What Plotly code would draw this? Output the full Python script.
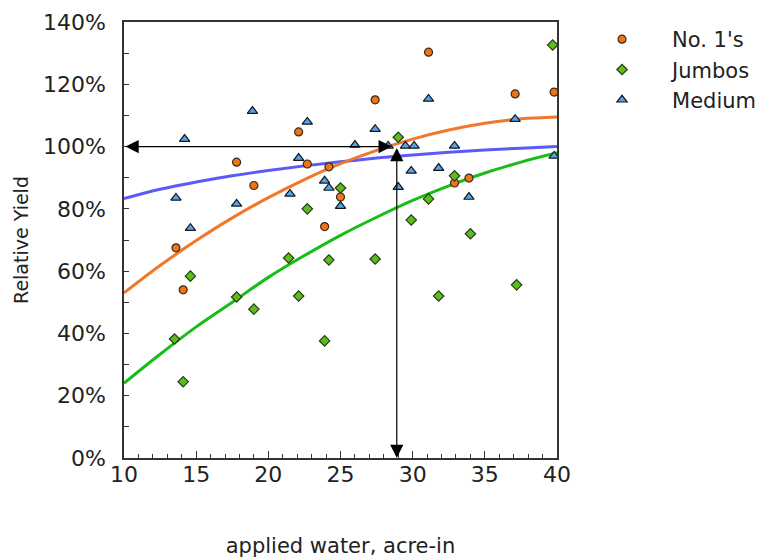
import plotly.graph_objects as go

# ---- data ----
no1_x = [13.6, 14.1, 17.8, 19.0, 22.1, 22.7, 23.9, 24.2, 25.0, 27.4, 31.1, 32.9, 33.9, 37.1, 39.8]
no1_y = [67.5, 54.0, 95.0, 87.5, 104.7, 94.4, 74.3, 93.5, 83.8, 115.0, 130.3, 88.3, 89.9, 116.9, 117.5]

jumbo_x = [13.5, 14.1, 14.6, 17.8, 19.0, 21.4, 22.1, 22.7, 23.9, 24.2, 25.0, 27.4, 29.0, 29.9,
           31.1, 31.8, 32.9, 34.0, 37.2, 39.7]
jumbo_y = [38.2, 24.5, 58.4, 51.7, 47.8, 64.2, 52.0, 80.0, 37.6, 63.6, 86.7, 63.9, 103.0, 76.4,
           83.2, 52.0, 90.6, 72.0, 55.6, 132.6]

medium_x = [13.6, 14.2, 14.6, 17.8, 18.9, 21.5, 22.1, 22.7, 23.9, 24.2, 25.0, 26.0, 27.4, 28.3,
            29.0, 29.5, 29.9, 30.1, 31.1, 31.8, 32.9, 33.9, 37.1, 39.8]
medium_y = [83.5, 102.4, 73.8, 81.6, 111.4, 84.8, 96.3, 107.9, 89.0, 86.7, 80.9, 100.5, 105.6, 100.2,
            87.0, 100.2, 92.2, 100.2, 115.3, 93.1, 100.2, 83.8, 108.8, 97.0]

curve_x = [10, 12.5, 15, 17.5, 20, 22.5, 25, 27.5, 30, 32.5, 35, 37.5, 40]
no1_curve = [53.0, 61.8, 69.8, 77.1, 83.6, 89.4, 94.5, 98.8, 102.4, 105.3, 107.5, 108.9, 109.5]
jumbo_curve = [24.0, 33.3, 42.1, 50.0, 58.0, 65.0, 71.5, 77.3, 82.7, 87.4, 91.5, 95.0, 98.0]
medium_curve = [83.3, 86.3, 88.6, 90.6, 92.3, 93.8, 95.1, 96.3, 97.3, 98.2, 98.9, 99.5, 100.0]

series_names = ["No. 1's", "Jumbos", "Medium"]
x_ticks = [10, 15, 20, 25, 30, 35, 40]
y_ticks = [0, 20, 40, 60, 80, 100, 120, 140]

target_yield = 100
target_water = 28.9
x_min, x_max = 10, 40

FONT = "DejaVu Sans"
TXT = "#222222"

fig = go.Figure()

# fitted curves
fig.add_trace(go.Scatter(x=curve_x, y=medium_curve, mode="lines", showlegend=False,
                         line=dict(color="#5a5af8", width=3, shape="spline"), hoverinfo="skip"))
fig.add_trace(go.Scatter(x=curve_x, y=no1_curve, mode="lines", showlegend=False,
                         line=dict(color="#f07828", width=3, shape="spline"), hoverinfo="skip"))
fig.add_trace(go.Scatter(x=curve_x, y=jumbo_curve, mode="lines", showlegend=False,
                         line=dict(color="#16be16", width=3, shape="spline"), hoverinfo="skip"))

# points
fig.add_trace(go.Scatter(x=no1_x, y=no1_y, mode="markers", name=series_names[0],
                         marker=dict(symbol="circle", size=8, color="#ee7418",
                                     line=dict(color="#3a2a1a", width=1.2))))
fig.add_trace(go.Scatter(x=jumbo_x, y=jumbo_y, mode="markers", name=series_names[1],
                         marker=dict(symbol="diamond", size=8, color="#5cbc1c",
                                     line=dict(color="#2a3a1a", width=1.2))))
fig.add_trace(go.Scatter(x=medium_x, y=medium_y, mode="markers", name=series_names[2],
                         marker=dict(symbol="triangle-up", size=9, color="#5aa2e6",
                                     line=dict(color="#101820", width=1.2))))

# arrows
fig.add_annotation(x=target_water - 0.35, y=target_yield, ax=x_min, ay=target_yield,
                   xref="x", yref="y", axref="x", ayref="y", text="", showarrow=True,
                   arrowside="end+start", arrowhead=2, startarrowhead=2,
                   arrowsize=2.2, startarrowsize=2.2, arrowwidth=1.2, arrowcolor="black",
                   standoff=0, startstandoff=0)
fig.add_annotation(x=target_water, y=0, ax=target_water, ay=target_yield,
                   xref="x", yref="y", axref="x", ayref="y", text="", showarrow=True,
                   arrowside="end+start", arrowhead=2, startarrowhead=2,
                   arrowsize=2.2, startarrowsize=2.2, arrowwidth=1.2, arrowcolor="black",
                   standoff=0, startstandoff=0)

fig.update_layout(
    width=772, height=559,
    margin=dict(l=116, r=223, t=14, b=109, autoexpand=False),
    paper_bgcolor="white", plot_bgcolor="white",
    font=dict(family=FONT, size=21, color=TXT),
    showlegend=True,
    legend=dict(x=0.7306, y=0.9803, xref="container", yref="container",
                xanchor="left", yanchor="top",
                font=dict(family=FONT, size=21, color=TXT),
                itemwidth=90, bgcolor="rgba(0,0,0,0)", tracegroupgap=0),
    xaxis=dict(range=[x_min, x_max], tickvals=x_ticks, ticktext=[str(v) for v in x_ticks],
               showgrid=False, zeroline=False, showline=True, linecolor="#333333",
               linewidth=1.5, mirror=True, ticks="inside", ticklen=7, tickwidth=1,
               tickcolor="#333333", automargin=False, ticklabelstandoff=-4,
               minor=dict(dtick=1, ticks="inside", ticklen=4, tickcolor="#333333", showgrid=False),
               tickfont=dict(family=FONT, size=22, color=TXT),
               title=dict(text="applied water, acre-in", standoff=52,
                          font=dict(family=FONT, size=21, color=TXT))),
    yaxis=dict(range=[0, 140], tickvals=y_ticks, ticktext=[f"{v}%" for v in y_ticks],
               showgrid=False, zeroline=False, showline=True, linecolor="#333333",
               linewidth=1.5, mirror=True, ticks="inside", ticklen=5, tickwidth=1,
               tickcolor="#333333", ticklabelstandoff=12, automargin=False,
               minor=dict(dtick=10, ticks="inside", ticklen=5, tickcolor="#333333", showgrid=False),
               tickfont=dict(family=FONT, size=22, color=TXT),
               title=dict(text="Relative Yield", standoff=9,
                          font=dict(family=FONT, size=19, color=TXT))),
)

fig.write_html("out.html")
